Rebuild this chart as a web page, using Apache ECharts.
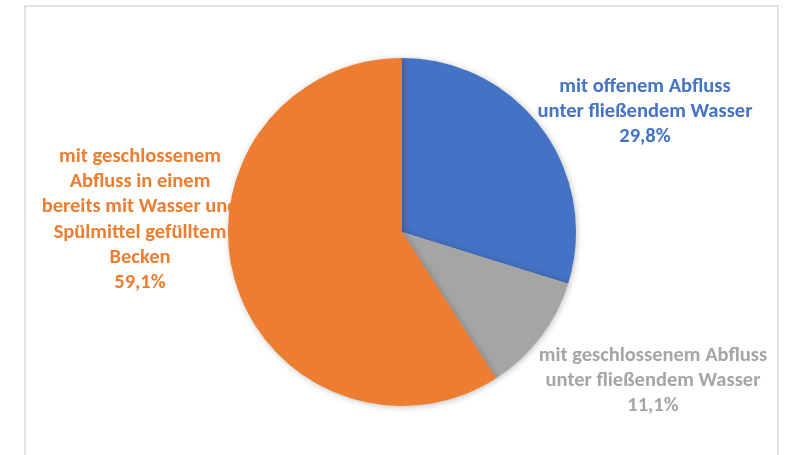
<!DOCTYPE html>
<html>
<head>
<meta charset="utf-8">
<script src="https://cdn.jsdelivr.net/npm/echarts@6/dist/echarts.min.js"></script>
<style>
html,body{margin:0;padding:0;background:#fff;}
#chart{width:787px;height:455px;}
</style>
</head>
<body>
<div id="chart"></div>
<script>
const categories = [
  "mit offenem Abfluss\nunter fließendem Wasser",
  "mit geschlossenem Abfluss\nunter fließendem Wasser",
  "mit geschlossenem\nAbfluss in einem\nbereits mit Wasser und\nSpülmittel gefülltem\nBecken"
];
const values = [29.8, 11.1, 59.1];
const valueLabels = ["29,8%", "11,1%", "59,1%"];
const colors = ["#4472C4", "#A5A5A5", "#ED7D31"];

const labelCenters = [[645, 112], [653, 381], [140, 220]];

const chart = echarts.init(document.getElementById('chart'), null, {renderer: 'canvas'});
chart.setOption({
  backgroundColor: '#ffffff',
  animation: false,
  graphic: [{
    type: 'rect',
    z: -10,
    shape: {x: 25, y: 6, width: 753, height: 470},
    style: {fill: 'none', stroke: '#D9D9D9', lineWidth: 1.5}
  }],
  series: [{
    type: 'pie',
    center: [402, 232],
    radius: [0, 174],
    startAngle: 90,
    clockwise: true,
    avoidLabelOverlap: false,
    data: categories.map((c, i) => ({
      name: c,
      value: values[i],
      itemStyle: {color: colors[i]},
      label: {color: colors[i]}
    })),
    itemStyle: {
      borderWidth: 0,
      shadowBlur: 6,
      shadowColor: 'rgba(0,0,0,0.25)',
      shadowOffsetX: 1,
      shadowOffsetY: 1
    },
    label: {
      show: true,
      position: 'outside',
      formatter: p => p.name + '\n' + valueLabels[p.dataIndex],
      fontFamily: 'Carlito, Calibri, Lato, sans-serif',
      fontWeight: 'bold',
      fontSize: 20.5,
      lineHeight: 25.3,
      align: 'center'
    },
    labelLine: {show: false},
    labelLayout: p => ({
      x: labelCenters[p.dataIndex][0],
      y: labelCenters[p.dataIndex][1],
      align: 'center',
      verticalAlign: 'middle'
    })
  }]
});
</script>
</body>
</html>
